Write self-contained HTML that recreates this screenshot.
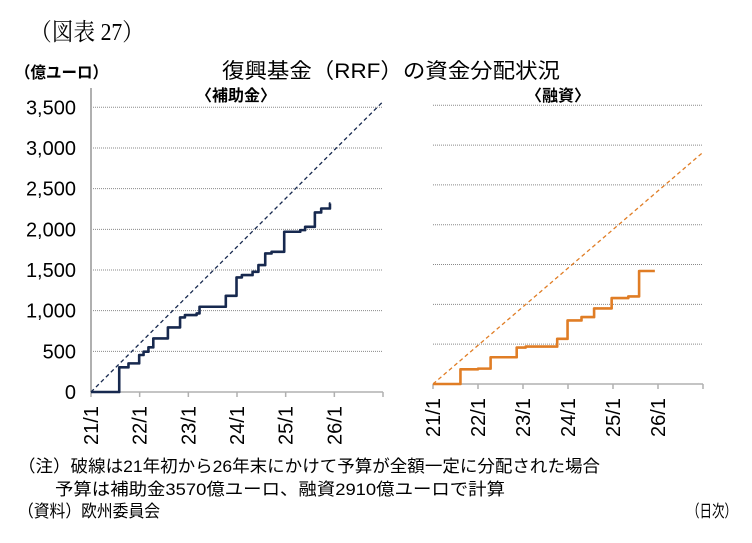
<!DOCTYPE html>
<html><head><meta charset="utf-8">
<style>
body{margin:0;background:#fff;}
svg{display:block;}
text{font-family:"Liberation Sans","Noto Sans CJK JP",sans-serif;fill:#000;}
</style></head>
<body>
<svg id="c" width="752" height="543" viewBox="0 0 752 543" xmlns="http://www.w3.org/2000/svg">
<text x="30" y="40" font-size="24" textLength="114" lengthAdjust="spacingAndGlyphs" style="font-family:'Liberation Serif','Noto Serif CJK SC',serif">（図表 27）</text>
<text x="222" y="78" font-size="21" textLength="338" lengthAdjust="spacingAndGlyphs">復興基金（RRF）の資金分配状況</text>
<text x="15" y="78" font-size="16" font-weight="bold" textLength="93" lengthAdjust="spacingAndGlyphs">（億ユーロ）</text>
<text x="236" y="101" font-size="16" font-weight="bold" text-anchor="middle">〈補助金〉</text>
<text x="558" y="101" font-size="16" font-weight="bold" text-anchor="middle">〈融資〉</text>
<text x="18" y="472" font-size="17" textLength="582" lengthAdjust="spacingAndGlyphs">（注）破線は21年初から26年末にかけて予算が全額一定に分配された場合</text>
<text x="55" y="495" font-size="17" textLength="450" lengthAdjust="spacingAndGlyphs">予算は補助金3570億ユーロ、融資2910億ユーロで計算</text>
<text x="18" y="517" font-size="17" textLength="142" lengthAdjust="spacingAndGlyphs">（資料）欧州委員会</text>
<text x="687" y="517" font-size="17" textLength="50" lengthAdjust="spacingAndGlyphs">（日次）</text>
<g id="plots"></g>
</svg>
<script>
const yTicks=[0,500,1000,1500,2000,2500,3000,3500];
const yTickLabels=["0","500","1,000","1,500","2,000","2,500","3,000","3,500"];
const xTickLabels=["21/1","22/1","23/1","24/1","25/1","26/1"];
const grantTimes=[0,0.58,0.77,0.99,1.08,1.18,1.28,1.58,1.83,1.93,2.17,2.23,2.77,2.99,3.10,3.32,3.44,3.58,3.71,3.97,4.30,4.40,4.60,4.73,4.91];
const grantValues=[0,303,352,455,495,549,659,794,917,946,966,1048,1183,1409,1437,1478,1560,1703,1724,1970,1990,2031,2207,2256,2318];
const grantEnd=4.92;
const grantBudget=3570;
const loanTimes=[0,0.61,1.0,1.28,1.86,2.06,2.76,2.99,3.30,3.58,3.97,4.34,4.58];
const loanValues=[0,185,193,336,458,470,567,798,840,949,1079,1100,1419];
const loanEnd=4.93;
const loanBudget=2910;
const years=6;

const NS="http://www.w3.org/2000/svg";
const root=document.getElementById('plots');
function mk(tag,attrs,parent){const e=document.createElementNS(NS,tag);for(const k in attrs)e.setAttribute(k,attrs[k]);(parent||root).appendChild(e);return e;}

function panel(cfg){
  const g=mk('g',{});
  
  
  const xs=t=>cfg.x0+(cfg.x1-cfg.x0)*t/years;
  const ys=v=>cfg.y0-(cfg.y0-cfg.yTop)*v/3500;
  yTicks.forEach((v,i)=>{
    if(v>0){const l=mk('line',{x1:cfg.x0,x2:cfg.x1,y1:ys(v),y2:ys(v),stroke:'#8a8a8a','stroke-width':1,'stroke-dasharray':'1,1'},g);
      
      }
    if(cfg.labels){const t=mk('text',{x:76,y:ys(v)+7,'font-size':20,'text-anchor':'end'},g);t.textContent=yTickLabels[i];
      
      }
  });
  if(cfg.labels){const ax=mk('line',{x1:cfg.x0,x2:cfg.x0,y1:cfg.y0,y2:88,stroke:'#b0b0b0','stroke-width':2},g);
    
    }
  const xa=mk('line',{x1:cfg.x0,x2:cfg.x1,y1:cfg.y0,y2:cfg.y0,stroke:'#b0b0b0','stroke-width':1.5},g);
  
  
  for(let i=0;i<=years;i++){
    mk('line',{x1:xs(i),x2:xs(i),y1:cfg.y0,y2:cfg.y0+5,stroke:'#b0b0b0','stroke-width':1.5},g);
    if(i<xTickLabels.length){const t=mk('text',{transform:`translate(${xs(i)+7},${cfg.y0+14}) rotate(-90)`,'font-size':20,'text-anchor':'end'},g);t.textContent=xTickLabels[i];
      
      }
  }
  const d=mk('line',{x1:xs(0),y1:ys(0),x2:xs(years),y2:ys(cfg.budget),stroke:cfg.dashColor,'stroke-width':1.3,'stroke-dasharray':'4,3'},g);
  
  
  let p='';
  cfg.times.forEach((t,i)=>{
    if(i===0)p+=`M${xs(t)},${ys(cfg.values[i])}`;
    else p+=` L${xs(t)},${ys(cfg.values[i-1])} L${xs(t)},${ys(cfg.values[i])}`;
  });
  p+=` L${xs(cfg.end)},${ys(cfg.values[cfg.values.length-1])}`;
  const s=mk('path',{d:p,fill:'none',stroke:cfg.color,'stroke-width':2.6,'stroke-linejoin':'round'},g);
  
  
}
panel({name:'grants-panel',x0:91,x1:383,y0:392,yTop:107.3,labels:true,times:grantTimes,values:grantValues,end:grantEnd,budget:grantBudget,color:'#17294f',dashColor:'#17294f'});
panel({name:'loans-panel',x0:433,x1:703,y0:384,yTop:105.3,labels:false,times:loanTimes,values:loanValues,end:loanEnd,budget:loanBudget,color:'#e07d25',dashColor:'#e07d25'});
</script>
</body></html>
